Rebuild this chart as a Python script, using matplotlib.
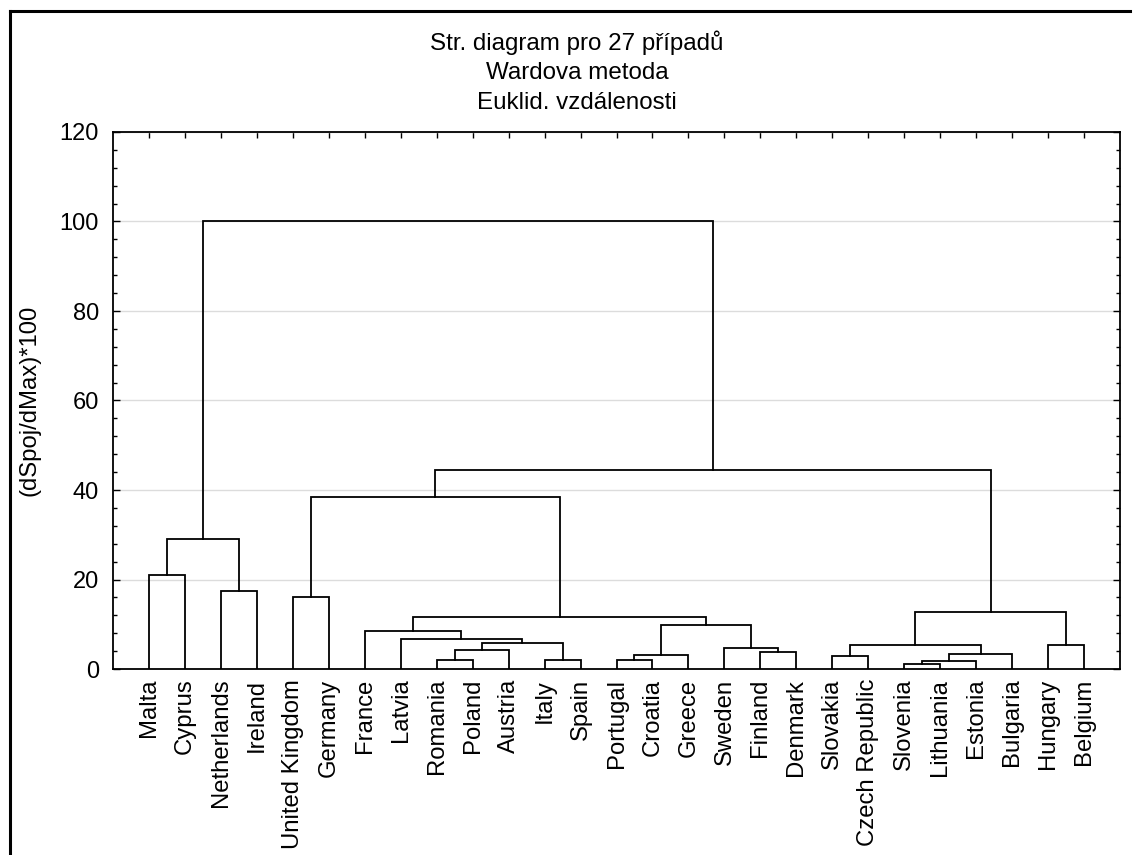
import matplotlib
matplotlib.use('Agg')
import matplotlib.pyplot as plt
from matplotlib.lines import Line2D
from matplotlib.ticker import MultipleLocator

plt.rcParams['font.family'] = ['Liberation Sans', 'DejaVu Sans']

# leaves in display order (left to right)
countries = ['Malta', 'Cyprus', 'Netherlands', 'Ireland', 'United Kingdom',
             'Germany', 'France', 'Latvia', 'Romania', 'Poland', 'Austria',
             'Italy', 'Spain', 'Portugal', 'Croatia', 'Greece', 'Sweden',
             'Finland', 'Denmark', 'Slovakia', 'Czech Republic', 'Slovenia',
             'Lithuania', 'Estonia', 'Bulgaria', 'Hungary', 'Belgium']

# merges, scipy style: ids 0..26 are leaves, each merge gets id 27, 28, ...
merge_left = [21, 27, 11, 13, 8, 19, 30, 28, 17, 31, 16, 25, 32, 36, 7, 6,
              33, 42, 39, 4, 2, 0, 46, 48, 49, 50]
merge_right = [22, 23, 12, 14, 9, 20, 15, 24, 18, 10, 35, 26, 34, 29, 40, 41,
               37, 43, 38, 5, 3, 1, 44, 47, 45, 51]
merge_height = [1.2, 1.8, 1.9, 2.0, 2.1, 2.9, 3.1, 3.4, 3.8, 4.2, 4.7, 5.3,
                5.4, 5.8, 6.7, 8.5, 9.8, 11.7, 12.7, 16.2, 17.4, 21.0, 38.5,
                29.0, 44.4, 100.0]

title_lines = ['Str. diagram pro 27 případů', 'Wardova metoda',
               'Euklid. vzdálenosti']
ylabel = '(dSpoj/dMax)*100'

W, H = 1134, 855
fig = plt.figure(figsize=(W / 100, H / 100), dpi=100)
ax = fig.add_axes([113 / W, 1 - 669 / H, (1120 - 113) / W, (669 - 132) / H])

n = len(countries)
xpos = {i: i + 1 for i in range(n)}
ypos = {i: 0.0 for i in range(n)}
for k, (a, b, h) in enumerate(zip(merge_left, merge_right, merge_height)):
    xa, xb = xpos[a], xpos[b]
    ax.plot([xa, xa, xb, xb], [ypos[a], h, h, ypos[b]],
            color='black', lw=1.3, solid_joinstyle='miter', zorder=3)
    xpos[n + k] = (xa + xb) / 2
    ypos[n + k] = h

ax.set_xlim(0, n + 1)
ax.set_ylim(0, 120)
ax.set_xticks(range(1, n + 1))
ax.set_xticklabels(countries, rotation=90, fontsize=17.2)
ax.yaxis.set_major_locator(MultipleLocator(20))
ax.yaxis.set_minor_locator(MultipleLocator(4))
ax.tick_params(axis='y', which='major', direction='in', length=5, width=1,
               labelsize=17, pad=10, right=True)
ax.tick_params(axis='y', which='minor', direction='in', length=3, width=1,
               right=True)
ax.tick_params(axis='x', direction='in', length=4, width=1, top=True,
               bottom=False, pad=7)
ax.grid(axis='y', which='major', color='#dcdcdc', lw=1, zorder=0)
ax.set_axisbelow(True)
for s in ax.spines.values():
    s.set_linewidth(1.3)

ax.set_ylabel(ylabel, fontsize=17.2, va='center')
ax.yaxis.set_label_coords(-(113 - 30) / (1120 - 113), 0.5)

for line, yb in zip(title_lines, [50, 79, 109]):
    fig.text(577 / W, 1 - yb / H, line, ha='center', va='baseline',
             fontsize=17.4)

# outer frame (left and top edges visible)
fig.add_artist(Line2D([10 / W, 10 / W], [-0.01, 1 - 11 / H],
                      transform=fig.transFigure, color='black', lw=2.2))
fig.add_artist(Line2D([10 / W, 1130 / W], [1 - 11 / H, 1 - 11 / H],
                      transform=fig.transFigure, color='black', lw=2.2))

fig.savefig('out.png', dpi=100)
